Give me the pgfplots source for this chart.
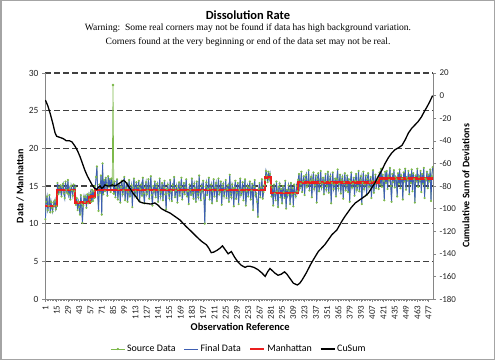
\documentclass[border=0pt]{standalone}
\usepackage{fontspec}
\setmainfont{Carlito}
\newfontfamily\timesfont{Liberation Serif}
\usepackage{pgfplots}
\usepackage{pgfplotstable}
\pgfplotsset{compat=1.18}
\definecolor{srcgreen}{RGB}{125,185,75}
\definecolor{finblue}{RGB}{62,95,178}
\definecolor{axgray}{RGB}{134,134,134}
\definecolor{manred}{RGB}{235,30,30}

\pgfplotstableread[row sep=\\]{
y\\
10.6\\12.9\\13.6\\11.8\\12.4\\13.8\\11.5\\12.9\\12.1\\11.6\\12.8\\12.4\\13.1\\11.9\\12.3\\
15.4\\13.9\\14.8\\14.2\\15.1\\13.6\\14.9\\15.3\\14.0\\13.4\\15.6\\14.5\\14.1\\15.8\\13.9\\14.6\\13.2\\15.0\\14.4\\13.7\\15.2\\14.3\\14.8\\
12.5\\13.4\\11.8\\12.9\\12.2\\11.2\\13.8\\12.6\\10.1\\12.4\\13.6\\12.9\\13.5\\12.1\\13.9\\12.7\\13.8\\
13.2\\14.1\\12.9\\14.5\\13.0\\14.3\\13.4\\
15.0\\16.2\\17.6\\13.8\\11.7\\15.2\\14.1\\16.4\\11.2\\18.0\\13.9\\15.8\\14.3\\16.1\\15.2\\13.7\\16.3\\14.9\\15.9\\14.2\\16.0\\15.1\\
15.3\\
14.0\\15.6\\13.5\\14.8\\15.9\\13.2\\14.6\\15.3\\12.8\\14.9\\
15.7\\13.9\\14.4\\16.2\\13.1\\14.7\\15.4\\12.9\\14.2\\15.8\\
13.6\\14.5\\15.1\\12.2\\14.8\\16.0\\13.8\\14.3\\15.5\\13.4\\
14.9\\15.7\\13.0\\14.6\\15.2\\13.7\\16.1\\14.0\\12.7\\14.8\\
15.5\\13.9\\14.4\\15.9\\13.3\\14.7\\16.3\\13.8\\12.4\\15.0\\
14.3\\15.6\\13.5\\14.9\\15.3\\12.9\\14.5\\16.0\\13.6\\14.2\\
15.4\\13.1\\14.8\\15.7\\13.9\\11.9\\14.6\\15.2\\14.0\\13.4\\
15.8\\14.3\\13.0\\15.1\\14.7\\16.2\\13.5\\14.4\\15.0\\12.8\\
14.6\\15.5\\13.7\\14.9\\16.1\\13.2\\14.2\\15.4\\13.9\\14.8\\
15.9\\13.6\\14.3\\12.6\\15.2\\14.5\\13.8\\16.0\\14.1\\13.3\\
15.3\\14.7\\12.9\\15.6\\14.0\\13.5\\16.4\\14.2\\13.1\\15.0\\
14.4\\15.7\\13.4\\10.0\\14.9\\15.5\\13.8\\14.6\\16.1\\13.2\\
14.7\\15.2\\12.7\\14.3\\15.9\\13.6\\14.8\\15.4\\13.0\\14.5\\
16.0\\13.9\\14.2\\15.6\\12.5\\14.9\\15.3\\13.7\\14.4\\15.8\\
13.4\\14.6\\15.1\\12.9\\16.5\\14.0\\13.5\\15.2\\14.7\\12.3\\
14.8\\15.7\\13.3\\14.1\\15.4\\12.6\\14.5\\16.0\\13.8\\14.2\\
15.5\\13.1\\14.7\\15.9\\12.4\\14.3\\15.0\\13.6\\14.8\\15.6\\
13.2\\14.4\\15.3\\11.8\\14.9\\15.8\\13.7\\14.0\\12.9\\10.9\\
14.6\\15.4\\13.5\\14.8\\15.9\\13.3\\14.2\\15.1\\
15.8\\17.0\\16.4\\15.5\\16.9\\15.9\\16.6\\15.1\\
13.6\\14.8\\12.4\\15.2\\14.0\\13.1\\15.6\\14.3\\12.2\\14.9\\
15.3\\13.5\\14.6\\12.7\\15.0\\14.2\\13.4\\15.7\\12.0\\14.5\\
13.8\\15.1\\14.4\\12.6\\15.4\\13.9\\14.7\\12.3\\15.2\\14.0\\
13.6\\15.0\\14.3\\
15.8\\16.6\\14.7\\15.3\\16.9\\14.2\\15.6\\16.3\\13.8\\15.9\\
16.5\\14.9\\15.2\\17.1\\14.4\\15.7\\16.2\\13.5\\15.8\\16.8\\
14.6\\15.1\\16.4\\12.8\\15.9\\16.7\\14.3\\15.5\\17.0\\14.8\\
15.3\\16.1\\13.9\\15.6\\16.6\\14.5\\15.0\\16.9\\14.1\\15.7\\
16.3\\12.7\\15.4\\16.8\\14.6\\15.2\\16.0\\13.6\\15.9\\17.2\\
14.7\\15.3\\16.5\\14.0\\15.8\\16.2\\13.3\\15.5\\16.7\\14.4\\
15.1\\16.4\\14.2\\15.9\\12.9\\15.6\\16.8\\14.8\\15.3\\16.1\\
13.7\\15.7\\16.6\\14.5\\15.0\\17.0\\14.3\\15.8\\16.3\\12.6\\
15.4\\16.9\\14.6\\15.2\\16.4\\13.8\\15.9\\16.7\\14.9\\15.5\\
16.2\\13.4\\15.7\\17.1\\14.1\\15.3\\16.5\\14.7\\15.8\\16.0\\
14.6\\
16.8\\15.2\\17.3\\14.9\\16.5\\15.7\\13.1\\16.9\\15.4\\17.0\\
14.6\\16.3\\15.8\\17.4\\15.0\\12.9\\16.6\\15.5\\17.1\\14.8\\
16.2\\15.9\\13.6\\16.7\\15.3\\17.2\\14.7\\16.4\\16.0\\13.2\\
16.8\\15.6\\17.3\\14.5\\16.1\\15.8\\17.0\\13.9\\16.5\\15.4\\
17.2\\14.3\\16.7\\15.9\\12.8\\16.4\\15.6\\17.3\\14.9\\16.2\\
15.7\\17.0\\14.2\\16.6\\15.3\\17.4\\13.4\\16.0\\15.8\\16.9\\
14.7\\16.5\\15.6\\17.2\\13.0\\16.3\\17.5\\
}\datatable

\begin{document}
\begin{tikzpicture}[x=1bp,y=1bp]
\path (0,0) rectangle (495,360);
\draw[axgray!75, line width=1.5bp] (0.75,0.75) rectangle (494.25,359.25);
\node[font=\bfseries\fontsize{12.5}{14}\selectfont] at (248,345) {Dissolution Rate};
\node[font=\timesfont\fontsize{9.6}{11}\selectfont] at (248,331.5) {Warning:\ \ Some real corners may not be found if data has high background variation.};
\node[font=\timesfont\fontsize{9.6}{11}\selectfont] at (248,317.5) {Corners found at the very beginning or end of the data set may not be real.};

\begin{axis}[
  at={(45bp,61bp)}, anchor=south west,
  width=388bp, height=226bp, scale only axis,
  xmin=0.5, xmax=482.5, ymin=0, ymax=30,
  axis x line*=bottom, axis y line*=left,
  axis line style={axgray, line width=0.8bp},
  tick align=outside, major tick length=3bp,
  every tick/.style={axgray, line width=0.6bp},
  xtick={1,15,...,477},
  minor x tick num=6, minor tick length=2bp,
  ytick={5,10,...,30},
  extra y ticks={0}, extra y tick style={grid=none},
  ymajorgrids,
  grid style={black!75, line width=1.1bp, dash pattern=on 6bp off 3bp},
  /pgf/number format/assume math mode=true,
  tick label style={font=\fontsize{9.5}{11}\selectfont, black!85},
  x tick label style={rotate=90, anchor=east, font=\fontsize{9}{10}\selectfont},
  xlabel={\bfseries Observation Reference},
  ylabel={\bfseries Data / Manhattan},
  every axis x label/.style={at={(axis description cs:0.503,-0.124)}, anchor=center, font=\fontsize{10.5}{12}\selectfont},
  every axis y label/.style={at={(axis description cs:-0.064,0.5)}, rotate=90, anchor=center, font=\fontsize{10}{12}\selectfont},
  legend columns=4,
  legend style={at={(axis description cs:0.5,-0.221)}, anchor=center, draw=none, fill=none,
    font=\fontsize{10}{12}\selectfont, /tikz/every even column/.append style={column sep=6bp}},
  legend image code/.code={\draw[mark repeat=2,mark phase=2,#1] plot coordinates {(0bp,0bp) (7bp,0bp) (14bp,0bp)};},
]
\addplot[srcgreen, line width=0.6bp, mark=*, mark size=0.75bp, mark options={fill=srcgreen, draw=srcgreen, solid}] table[x expr=\coordindex+1, y=y] {\datatable};
\addlegendentry{Source Data}
\addplot[srcgreen, line width=0.7bp, mark=*, mark size=0.9bp, mark options={fill=srcgreen, draw=srcgreen}, forget plot] coordinates {(84,15.1) (85,28.4) (86,14.0)};
\addplot[finblue, line width=0.9bp] table[x expr=\coordindex+1, y=y] {\datatable};
\addlegendentry{Final Data}
\addplot[manred, line width=2.5bp] coordinates {
(1,12.35) (15.5,12.35) (15.5,14.47) (37.5,14.47) (37.5,12.8) (55.5,12.8) (55.5,13.6) (62.5,13.6) (62.5,14.47) (273.5,14.47) (273.5,16.15) (281.5,16.15) (281.5,14.1) (314.5,14.1) (314.5,15.45) (415.5,15.45) (415.5,16.0) (482,16.0)};
\addlegendentry{Manhattan}
\addlegendimage{black, line width=1.3bp}
\addlegendentry{CuSum}
\end{axis}

\begin{axis}[
  at={(45bp,61bp)}, anchor=south west,
  width=388bp, height=226bp, scale only axis,
  xmin=0.5, xmax=482.5, ymin=-180, ymax=20,
  axis y line*=right, axis x line=none,
  axis line style={axgray, line width=0.8bp},
  tick align=outside, major tick length=3bp,
  every tick/.style={axgray, line width=0.6bp},
  ytick={-180,-160,...,20},
  /pgf/number format/assume math mode=true,
  tick label style={font=\fontsize{9}{11}\selectfont, black!85},
  ylabel={\bfseries Cumulative Sum of Deviations},
  every axis y label/.style={at={(axis description cs:1.085,0.5)}, rotate=90, anchor=center, font=\fontsize{10}{12}\selectfont},
]
\addplot[black, line width=1.3bp] coordinates {
(1,-4) (4,-9) (7,-16) (10,-24) (13,-33) (15,-36) (19,-37) (23,-38) (27,-40) (31,-40) (34,-41) (38,-45) (41,-49) (44,-54) (47,-60) (50,-66) (53,-71) (56,-75) (59,-79) (62,-82) (65,-83) (67,-81) (69,-80) (71,-82) (73,-81) (75,-79) (78,-80) (81,-80) (84,-79) (87,-80) (90,-79) (94,-77) (98,-75) (100,-76) (102,-77.7) (106,-82) (110,-86.5) (114,-90) (118,-94) (122,-95) (127,-95.5) (132,-96) (137,-95) (141,-97) (145,-100) (150,-102) (156,-104) (162,-107) (168,-110) (172,-113) (176,-116) (182,-120) (189,-125) (195,-129) (201,-132) (204,-135) (207,-139) (210,-138.5) (214,-137) (218,-135) (221,-133) (224,-136) (228,-140) (232,-138) (236,-143) (240,-147) (244,-150) (249,-152) (252,-151) (255,-151) (260,-152) (265,-154) (270,-157) (274,-160) (277,-156) (280,-153) (283,-155) (286,-157) (290,-159) (294,-158) (298,-156) (301,-158) (305,-162) (309,-166) (312,-167) (314,-167.6) (317,-166) (320,-163) (325,-157) (330,-150) (334,-145) (340,-138) (344,-135) (348,-132) (352,-128) (357,-123) (363,-119) (369,-111.5) (373,-107) (377,-103) (381,-99) (386,-95) (390,-93) (394,-91) (398,-89) (402,-86.5) (406,-82) (410,-77.7) (414,-72) (419,-66) (423,-60) (427,-55) (431,-51) (435,-48) (440,-46) (444,-44) (448,-39) (452,-33) (456,-29) (460,-26) (464,-23) (468,-19) (471,-15) (475,-10) (478,-6) (480,-3) (482,0)};
\end{axis}
\end{tikzpicture}
\end{document}
